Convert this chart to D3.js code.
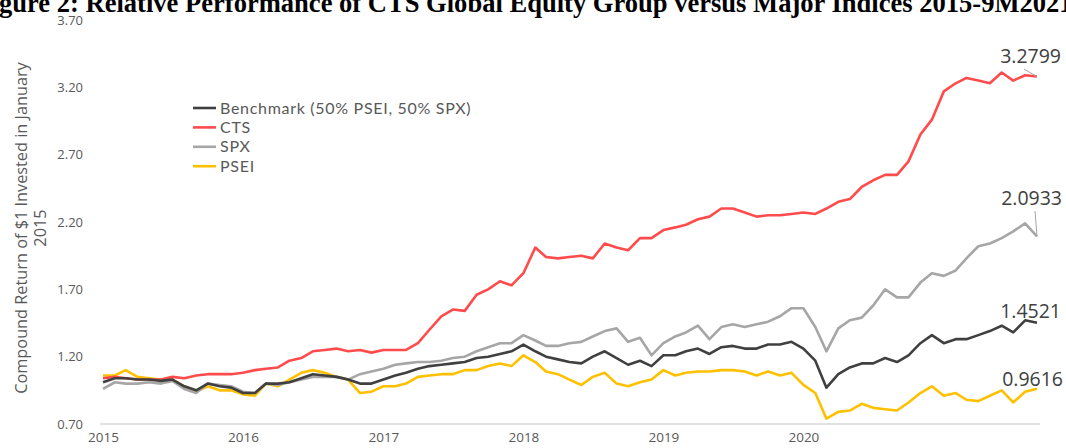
<!DOCTYPE html>
<html>

<head>
    <meta charset="utf-8">
    <script src="https://cdnjs.cloudflare.com/ajax/libs/d3/7.8.5/d3.min.js"></script>
    <style>
        body { margin: 0; background: #fff; }
        svg { display: block; font-family: "Open Sans", "Liberation Sans", sans-serif; }
    </style>
</head>

<body>
    <script>
        // monthly points, Jan 2015 .. Sep 2021
        var startYear = 2015, startMonth = 0, nMonths = 81;

        var cts = [1.04, 1.05, 1.04, 1.03, 1.03, 1.03, 1.05, 1.04, 1.06, 1.07, 1.07, 1.07,
            1.08, 1.10, 1.11, 1.12, 1.17, 1.19, 1.24, 1.25, 1.26, 1.24, 1.25, 1.23,
            1.25, 1.25, 1.25, 1.30, 1.40, 1.50, 1.55, 1.54, 1.66, 1.70, 1.76, 1.73,
            1.82, 2.01, 1.94, 1.93, 1.94, 1.95, 1.93, 2.04, 2.01, 1.99, 2.08, 2.08,
            2.14, 2.16, 2.18, 2.22, 2.24, 2.30, 2.30, 2.27, 2.24, 2.25, 2.25, 2.26,
            2.27, 2.26, 2.30, 2.35, 2.37, 2.46, 2.51, 2.55, 2.55, 2.65, 2.85, 2.96,
            3.17, 3.23, 3.27, 3.25, 3.23, 3.31, 3.25, 3.29, 3.2799];

        var spx = [0.96, 1.01, 1.00, 1.00, 1.01, 1.00, 1.02, 0.96, 0.93, 1.00, 0.99, 0.98,
            0.94, 0.93, 1.00, 0.99, 1.01, 1.03, 1.05, 1.05, 1.05, 1.03, 1.07, 1.09,
            1.11, 1.14, 1.15, 1.16, 1.16, 1.17, 1.19, 1.20, 1.24, 1.27, 1.30, 1.30,
            1.36, 1.32, 1.28, 1.28, 1.30, 1.31, 1.35, 1.39, 1.41, 1.31, 1.34, 1.21,
            1.30, 1.35, 1.38, 1.43, 1.33, 1.42, 1.44, 1.42, 1.44, 1.46, 1.50, 1.56,
            1.56, 1.42, 1.24, 1.41, 1.47, 1.49, 1.58, 1.70, 1.64, 1.64, 1.75, 1.82,
            1.80, 1.84, 1.93, 2.02, 2.04, 2.08, 2.13, 2.19, 2.0933];

        var benchmark = [1.01, 1.04, 1.04, 1.03, 1.03, 1.02, 1.03, 0.98, 0.95, 1.00, 0.98, 0.97,
            0.93, 0.93, 1.00, 1.00, 1.01, 1.04, 1.07, 1.06, 1.05, 1.03, 1.00, 1.00,
            1.03, 1.06, 1.08, 1.11, 1.13, 1.14, 1.15, 1.16, 1.19, 1.20, 1.22, 1.24,
            1.29, 1.24, 1.20, 1.18, 1.16, 1.15, 1.20, 1.24, 1.19, 1.14, 1.17, 1.13,
            1.21, 1.21, 1.24, 1.26, 1.22, 1.27, 1.28, 1.26, 1.26, 1.29, 1.29, 1.31,
            1.26, 1.17, 0.97, 1.07, 1.12, 1.15, 1.15, 1.19, 1.16, 1.21, 1.30, 1.36,
            1.30, 1.33, 1.33, 1.36, 1.39, 1.43, 1.38, 1.47, 1.4521];

        var psei = [1.06, 1.06, 1.10, 1.05, 1.04, 1.03, 1.03, 0.98, 0.94, 0.98, 0.95, 0.95,
            0.92, 0.91, 1.00, 0.98, 1.03, 1.08, 1.10, 1.08, 1.05, 1.03, 0.93, 0.94,
            0.98, 0.98, 1.00, 1.05, 1.06, 1.07, 1.07, 1.10, 1.10, 1.13, 1.15, 1.13,
            1.21, 1.16, 1.09, 1.07, 1.03, 0.99, 1.05, 1.08, 1.00, 0.98, 1.01, 1.03,
            1.10, 1.06, 1.08, 1.09, 1.09, 1.10, 1.10, 1.09, 1.06, 1.09, 1.06, 1.08,
            0.99, 0.93, 0.74, 0.79, 0.80, 0.85, 0.82, 0.81, 0.80, 0.86, 0.93, 0.98,
            0.91, 0.93, 0.88, 0.87, 0.91, 0.95, 0.86, 0.94, 0.9616];

        var seriesNames = ["Benchmark (50% PSEI, 50% SPX)", "CTS", "SPX", "PSEI"];
        var seriesColors = ["#404040", "#ff4b4b", "#a6a6a6", "#ffc000"];
        var seriesValues = [benchmark, cts, spx, psei];
        var endLabels = ["1.4521", "3.2799", "2.0933", "0.9616"];
        var yTicks = [0.70, 1.20, 1.70, 2.20, 2.70, 3.20, 3.70];
        var xTickYears = [2015, 2016, 2017, 2018, 2019, 2020];

        var title = "Figure 2: Relative Performance of CTS Global Equity Group versus Major Indices 2015-9M2021";
        var yTitle = ["Compound Return of $1 Invested in January", "2015"];

        var W = 1066, H = 448;
        var svg = d3.select('body').append('svg')
            .attr('width', W)
            .attr('height', H);

        var dates = d3.range(nMonths).map(function(i) {
            return new Date(startYear, startMonth + i, 1);
        });

        var x = d3.scaleTime()
            .domain([dates[0], dates[nMonths - 1]])
            .range([103, 1037]);
        var y = d3.scaleLinear()
            .domain([0.7, 3.7])
            .range([424, 20]);

        // title, clipped at the top like the source; sized so "gure ... 9M2021" spans the width
        var titleFont = 25;
        var t = svg.append('text')
            .attr('y', 11.5)
            .style('font-family', '"Liberation Serif", serif')
            .style('font-weight', 'bold')
            .style('font-size', titleFont + 'px')
            .text(title);
        var fi = svg.append('text')
            .style('font-family', '"Liberation Serif", serif')
            .style('font-weight', 'bold')
            .style('font-size', titleFont + 'px')
            .text("Fi");
        var fullW = t.node().getComputedTextLength();
        var fiW = fi.node().getComputedTextLength();
        titleFont = titleFont * 1074 / (fullW - fiW);
        t.style('font-size', titleFont + 'px');
        fi.style('font-size', titleFont + 'px');
        fiW = fi.node().getComputedTextLength();
        fi.remove();
        t.attr('x', -fiW - 1);

        // axis baseline
        svg.append('line')
            .attr('x1', 100).attr('x2', 1040)
            .attr('y1', y(0.7)).attr('y2', y(0.7))
            .attr('stroke', '#d9d9d9')
            .attr('stroke-width', 1.3);

        var yAxis = svg.append('g')
            .attr('transform', 'translate(83,0)')
            .call(d3.axisLeft(y).tickValues(yTicks).tickFormat(d3.format('.2f')).tickSize(0).tickPadding(0));
        yAxis.select('.domain').remove();
        yAxis.selectAll('text')
            .style('font-family', '"Open Sans", sans-serif')
            .style('font-size', '13px')
            .attr('fill', '#595959');

        var xAxis = svg.append('g')
            .attr('transform', 'translate(0,' + 430 + ')')
            .call(d3.axisBottom(x)
                .tickValues(xTickYears.map(function(yr) { return new Date(yr, 0, 1); }))
                .tickFormat(d3.timeFormat('%Y'))
                .tickSize(0).tickPadding(2));
        xAxis.select('.domain').remove();
        xAxis.selectAll('text')
            .style('font-family', '"Open Sans", sans-serif')
            .style('font-size', '13.5px')
            .attr('fill', '#595959');

        // y title
        var yt = svg.append('text')
            .attr('transform', 'translate(22,228) rotate(-90)')
            .attr('text-anchor', 'middle')
            .style('font-family', '"Open Sans", sans-serif')
            .style('font-size', '16.3px')
            .attr('fill', '#595959');
        yt.selectAll('tspan').data(yTitle).enter().append('tspan')
            .attr('x', 0)
            .attr('dy', function(d, i) { return i === 0 ? 5 : 19; })
            .text(function(d) { return d; });

        var line = d3.line()
            .x(function(d, i) { return x(dates[i]); })
            .y(function(d) { return y(d); });

        // draw order: PSEI, SPX, CTS, Benchmark on top
        [3, 2, 1, 0].forEach(function(k) {
            svg.append('path')
                .datum(seriesValues[k])
                .attr('fill', 'none')
                .attr('stroke', seriesColors[k])
                .attr('stroke-width', 2.6)
                .attr('stroke-linejoin', 'round')
                .attr('d', line);
        });

        // end labels with leader lines
        var labelPos = [
            { dx: 1061, dy: 318, lead: false },
            { dx: 1061, dy: 63, lead: true, lx: 1024, ly: 69 },
            { dx: 1062, dy: 205, lead: true, lx: 1035, ly: 211 },
            { dx: 1063, dy: 386, lead: false }
        ];
        seriesValues.forEach(function(vals, k) {
            var p = labelPos[k];
            var last = vals[vals.length - 1];
            if (p.lead) {
                svg.append('line')
                    .attr('x1', p.lx).attr('y1', p.ly)
                    .attr('x2', x(dates[nMonths - 1])).attr('y2', y(last))
                    .attr('stroke', '#a6a6a6')
                    .attr('stroke-width', 1);
            }
            svg.append('text')
                .attr('x', p.dx).attr('y', p.dy)
                .attr('text-anchor', 'end')
                .style('font-family', '"Open Sans", sans-serif')
                .style('font-size', '19.5px')
                .attr('fill', '#404040')
                .text(endLabels[k]);
        });

        // legend
        var legend = svg.append('g').attr('transform', 'translate(193,108)');
        seriesNames.forEach(function(name, k) {
            var g = legend.append('g').attr('transform', 'translate(0,' + (k * 19.4) + ')');
            g.append('line')
                .attr('x1', 0).attr('x2', 23)
                .attr('stroke', seriesColors[k])
                .attr('stroke-width', 2.6);
            g.append('text')
                .attr('x', 27).attr('y', 5.5)
                .style('font-family', 'Lato, sans-serif')
                .style('font-size', '16px')
                .style('letter-spacing', '0.7px')
                .attr('fill', '#595959')
                .text(name);
        });
    </script>
</body>

</html>
